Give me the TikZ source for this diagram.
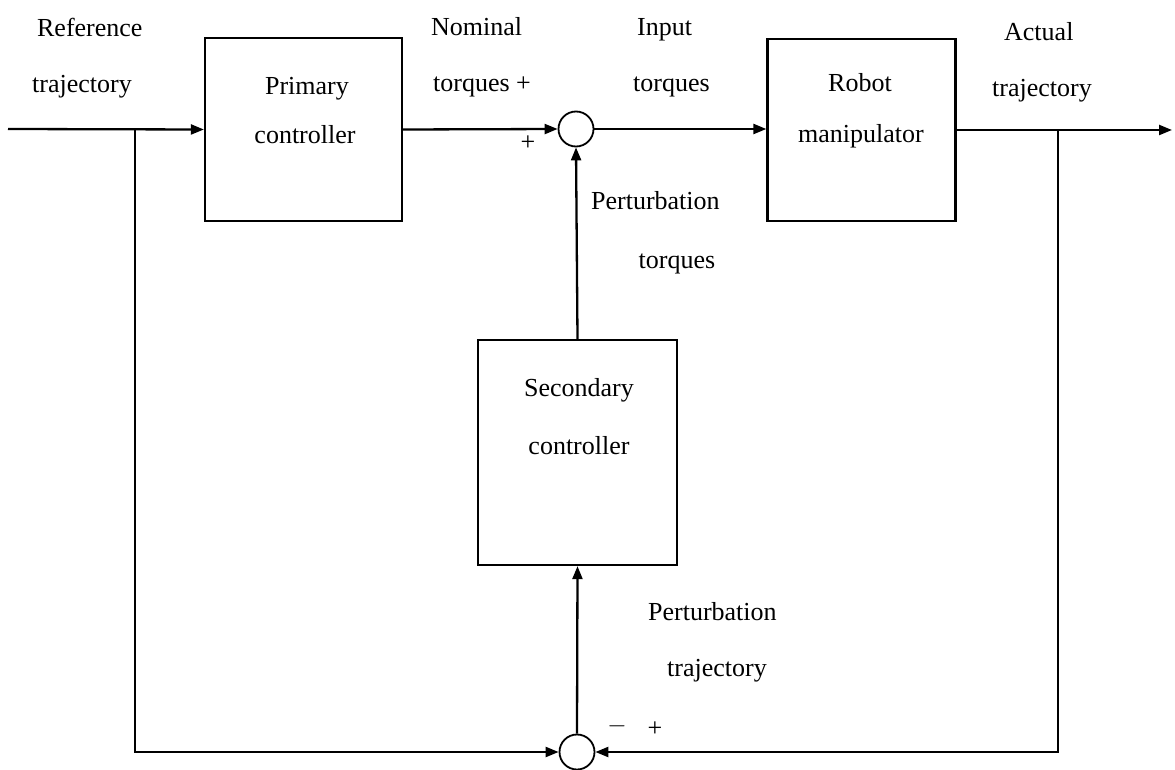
\documentclass[tikz,border=0pt]{standalone}
\usepackage{fontspec}
\setmainfont{Liberation Serif}
\usetikzlibrary{arrows.meta}
\begin{document}
\begin{tikzpicture}[x=1pt,y=-1pt,
  line width=2.3pt,
  >={Triangle[length=13pt,width=10pt]},
  blk/.style={draw,line width=2.3pt,inner sep=0pt},
  sumj/.style={draw,circle,line width=1.8pt,minimum size=35pt,inner sep=0pt},
  lbl/.style={font=\fontsize{26}{30}\selectfont,inner sep=0pt},
  lblc/.style={lbl,anchor=base},
  lblw/.style={lbl,anchor=base west}]
\useasboundingbox (0,0) rectangle (1175,770);
% blocks
\node[blk,minimum width=197pt,minimum height=183pt] (prim) at (303.5,129.5) {};
\node[blk,minimum width=188pt,minimum height=182pt] (robot) at (861.5,130) {};
\node[blk,minimum width=199pt,minimum height=225pt] (sec) at (577.5,452.5) {};
\node[sumj] (sum1) at (576,129) {};
\node[sumj] (sum2) at (577,752) {};
% coordinates
\coordinate (in) at (8,129);
\coordinate (b1) at (135,129);
\coordinate (b1d) at (135,752);
\coordinate (b2) at (1058,130);
\coordinate (b2d) at (1058,752);
\coordinate (out) at (1172,130);
% connectors
\draw[->] (in) -- (prim.west);
\draw[->] (prim.east) -- (sum1.west);
\draw[->] (sum1.east) -- (sum1.east -| robot.west);
\draw[->] (robot.east) -- (out);
\draw[->] (sec.north) -- (sum1.south);
\draw[->] (sum2.north) -- (sec.south);
\draw[->] (b1) -- (b1d) -- (sum2.west);
\draw[->] (b2) -- (b2d) -- (sum2.east);
% texts
\node[lblw] (t1) at (36,37) {Reference};
\node[lblw] (t2) at (31,93) {trajectory};
\node[lblc] (t3) at (307,95) {Primary};
\node[lblc] (t4) at (305,144) {controller};
\node[lblw] (t5) at (430,36) {Nominal};
\node[lblw] (t6) at (432,92) {torques +};
\node[lblc] (t7) at (528,151) {+};
\node[lblw] (t8) at (636,36) {Input};
\node[lblw] (t9) at (632,92) {torques};
\node[lblc] (t10) at (860,92) {Robot};
\node[lblc] (t11) at (861,143) {manipulator};
\node[lblw] (t12) at (1003,41) {Actual};
\node[lblw] (t13) at (991,97) {trajectory};
\node[lblw] (t14) at (590,210) {Perturbation};
\node[lblc] (t15) at (677,268) {torques};
\node[lblc] (t16) at (579,396) {Secondary};
\node[lblc] (t17) at (579,454) {controller};
\node[lblw] (t18) at (647,620) {Perturbation};
\node[lblw] (t19) at (666,676) {trajectory};
\node[lblc] (t20) at (617,732) {$-$};
\node[lblc] (t21) at (655,736) {+};
\end{tikzpicture}
\end{document}
